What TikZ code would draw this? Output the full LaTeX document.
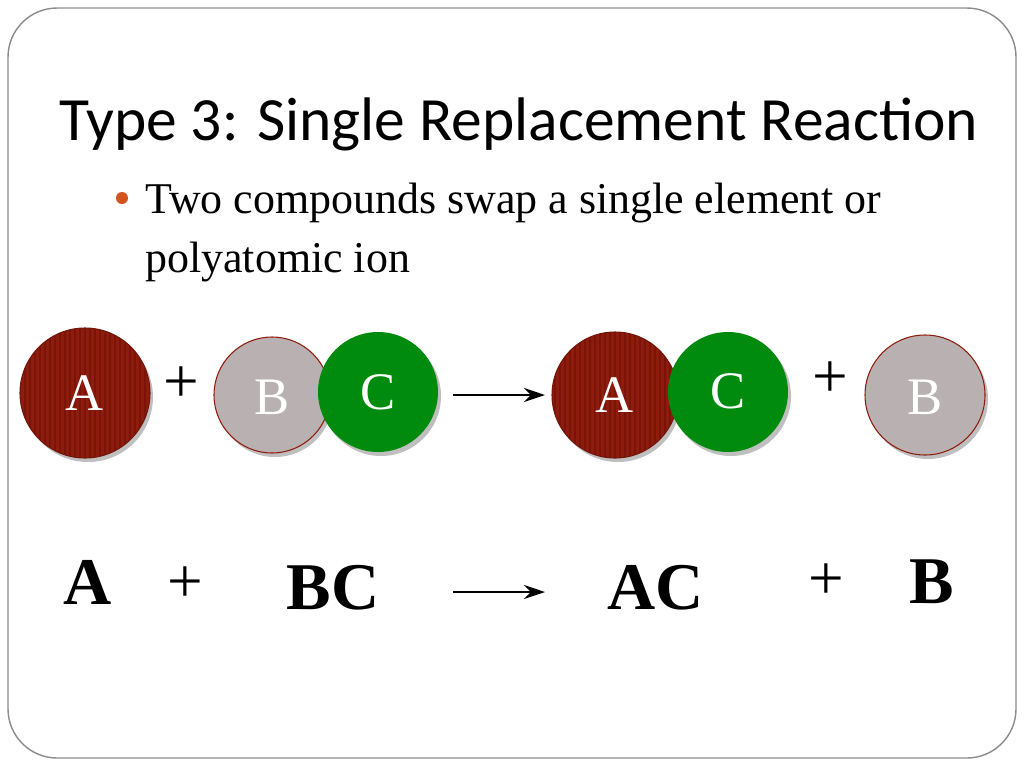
\documentclass[tikz,border=0pt]{standalone}
\usepackage{fontspec}
\setmainfont{Liberation Serif}
\newfontfamily\titlefont{Carlito}
\usetikzlibrary{arrows.meta}
\definecolor{dred}{HTML}{8E1C0C}
\definecolor{sred}{HTML}{7A1408}
\definecolor{dgreen}{HTML}{008A0E}
\definecolor{lgray}{HTML}{B9B1B1}
\definecolor{bullet}{HTML}{D2541E}
\tikzset{
  atomtxt/.style={text=white,font=\fontsize{30}{30}\selectfont},
  eqtxt/.style={font=\fontsize{38}{38}\selectfont\bfseries},
  plustxt/.style={font=\fontsize{36}{36}\selectfont},
  rarrow/.style={-{Stealth[length=12pt,width=8pt]},line width=1.6pt}
}
\newcommand{\redatom}[4]{%
  \fill[black!25] (#1+3,#2+4) circle (#3);
  \fill[dred] (#1,#2) circle (#3);
  \begin{scope}
    \clip (#1,#2) circle (#3);
    \foreach \i in {-70,-65,...,70} \draw[sred,line width=0.8pt] (#1+\i,#2-#3) -- (#1+\i,#2+#3);
  \end{scope}
  \draw[dred!80!black,line width=0.6pt] (#1,#2) circle (#3);
  \node[atomtxt] (#4) at (#1,#2) {A};}
\begin{document}
\begin{tikzpicture}[x=0.02cm,y=-0.02cm]
\useasboundingbox (0,0) rectangle (1024,768);
\fill[white] (0,0) rectangle (1024,768);
\draw[black!45,line width=0.8pt,rounded corners=28] (8,8) rectangle (1016,758);
\node[anchor=base west,font=\titlefont\fontsize{35}{35}\selectfont] (title) at (53,140) {Type 3: Single Replacement Reaction};
\fill[bullet] (122,198) circle (6);
\node[anchor=base west,font=\fontsize{25}{30}\selectfont,align=left,inner sep=0] (bt) at (145,213) {Two compounds swap a single element or};
\node[anchor=base west,font=\fontsize{25}{30}\selectfont,inner sep=0] (bt2) at (145,272) {polyatomic ion};
% top row
\redatom{85}{393}{65}{a1}
\fill[black!25] (275,399) circle (58);
\fill[lgray] (272,395) circle (58);
\draw[dred,line width=0.6pt] (272,395) circle (58);
\node[atomtxt] (b1) at (272,397) {B};
\fill[black!25] (381,396) circle (60);
\fill[dgreen] (378,392) circle (60);
\node[atomtxt] (c1) at (378,392) {C};
\node[plustxt] (p1) at (181,385) {+};
\redatom{615}{395}{63}{a2}
\fill[black!25] (731,396) circle (60);
\fill[dgreen] (728,392) circle (60);
\node[atomtxt] (c2) at (728,391) {C};
\node[plustxt] (p2) at (830,380) {+};
\fill[black!25] (928,399) circle (60);
\fill[lgray] (925,395) circle (60);
\draw[dred,line width=0.6pt] (925,395) circle (60);
\node[atomtxt] (b2) at (925,397) {B};
\coordinate (s1) at (453,395); \coordinate (e1) at (545,395);
\draw[rarrow] (s1) -- (e1);
% bottom row
\node[eqtxt] (ea) at (88,582) {A};
\node[plustxt] (ep1) at (185,585) {+};
\node[eqtxt] (ebc) at (333,588) {BC};
\coordinate (s2) at (453,592); \coordinate (e2) at (545,592);
\draw[rarrow] (s2) -- (e2);
\node[eqtxt] (eac) at (656,588) {AC};
\node[plustxt] (ep2) at (826,582) {+};
\node[eqtxt] (eb) at (932,582) {B};
\end{tikzpicture}
\end{document}
